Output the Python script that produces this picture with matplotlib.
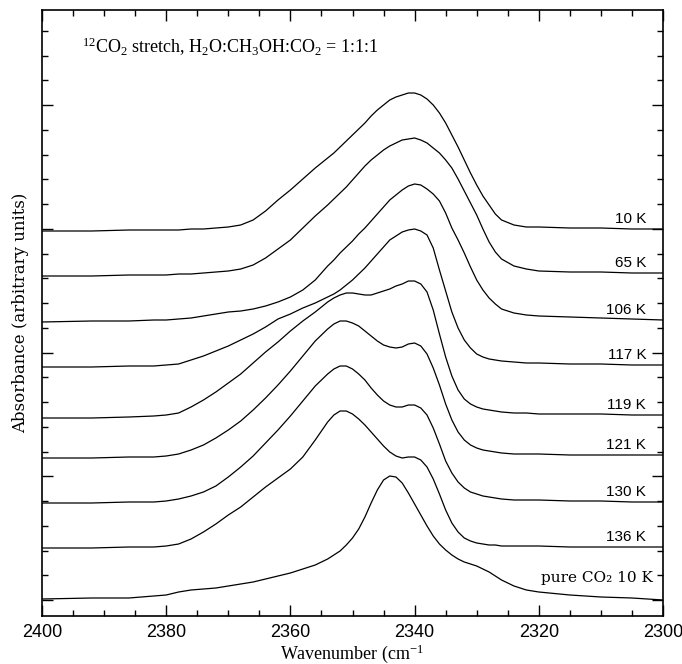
import matplotlib
matplotlib.use("Agg")
import matplotlib.pyplot as plt
from matplotlib.ticker import MultipleLocator, NullFormatter

plt.rcParams['mathtext.fontset'] = 'custom'
plt.rcParams['mathtext.rm'] = 'Liberation Serif'
plt.rcParams['mathtext.it'] = 'Liberation Serif:italic'

# wavenumber grid (cm^-1)
wavenumber = [2400, 2392, 2386, 2382, 2380, 2378, 2376, 2374, 2372, 2370, 2368, 2366,
              2364, 2362, 2360, 2358, 2356, 2354, 2353, 2352, 2351, 2350, 2349, 2348,
              2347, 2346, 2345, 2344, 2343, 2342, 2341, 2340, 2339, 2338, 2337, 2336,
              2335, 2334, 2333, 2332, 2331, 2330, 2329, 2328, 2327, 2326, 2324, 2322,
              2320, 2315, 2310, 2305, 2300]

# absorbance (arbitrary units, vertical offsets included)
abs_10K = [369, 369, 370, 370, 370, 370, 371, 371, 372, 373, 375, 380,
           389, 400, 410, 421, 432, 442, 447, 453, 459, 465, 471, 477,
           484, 490, 495, 500, 503, 505, 507, 507, 505, 501, 495, 487,
           477, 465, 453, 440, 427, 415, 404, 395, 386, 380, 375, 373,
           373, 372, 372, 371, 371]
abs_65K = [324, 324, 325, 325, 325, 326, 326, 327, 328, 329, 331, 335,
           342, 351, 360, 372, 384, 395, 401, 407, 413, 420, 427, 434,
           440, 445, 450, 454, 457, 460, 461, 462, 460, 457, 452, 447,
           440, 432, 421, 409, 397, 385, 371, 358, 348, 341, 334, 331,
           329, 328, 328, 327, 327]
abs_106K = [278, 279, 279, 280, 280, 281, 282, 284, 286, 288, 289, 291,
            294, 298, 303, 310, 320, 334, 340, 347, 353, 359, 366, 372,
            379, 386, 393, 400, 405, 410, 414, 416, 415, 411, 406, 399,
            387, 372, 360, 347, 333, 320, 310, 302, 296, 291, 287, 285,
            284, 283, 282, 281, 280]
abs_117K = [233, 233, 234, 234, 235, 236, 240, 244, 249, 254, 260, 266,
            273, 281, 286, 292, 297, 303, 306, 310, 315, 320, 326, 332,
            339, 346, 353, 360, 364, 368, 370, 371, 369, 365, 352, 330,
            309, 288, 272, 260, 252, 246, 243, 241, 240, 239, 238, 237,
            237, 236, 236, 235, 235]
abs_119K = [182, 182, 183, 184, 185, 187, 193, 200, 208, 217, 226, 237,
            248, 258, 269, 279, 288, 298, 302, 305, 307, 307, 306, 305,
            305, 307, 309, 311, 314, 316, 319, 319, 316, 308, 290, 266,
            243, 224, 210, 201, 196, 193, 191, 190, 189, 188, 187, 187,
            186, 186, 186, 185, 185]
abs_121K = [142, 142, 143, 143, 144, 146, 150, 155, 162, 170, 179, 190,
            202, 215, 229, 244, 259, 271, 276, 279, 279, 277, 274, 269,
            264, 259, 255, 253, 252, 253, 256, 257, 254, 246, 232, 215,
            196, 180, 168, 160, 155, 152, 150, 149, 148, 147, 146, 146,
            146, 145, 145, 145, 145]
abs_130K = [97, 97, 98, 98, 99, 101, 104, 108, 114, 123, 133, 144,
            157, 170, 184, 199, 214, 226, 231, 234, 234, 231, 226, 220,
            212, 205, 199, 195, 193, 193, 195, 195, 192, 185, 172, 156,
            139, 127, 118, 112, 108, 106, 104, 103, 102, 101, 100, 100,
            100, 99, 99, 98, 98]
abs_136K = [52, 52, 53, 53, 54, 56, 61, 68, 76, 85, 93, 103,
            113, 122, 131, 143, 160, 178, 185, 189, 189, 186, 181, 175,
            168, 161, 154, 148, 144, 142, 143, 143, 140, 133, 121, 106,
            90, 77, 68, 62, 59, 57, 56, 55, 55, 54, 54, 54,
            54, 53, 53, 53, 53]
abs_pure = [1, 2, 2, 4, 5, 8, 10, 11, 12, 14, 16, 18,
            21, 24, 27, 31, 35, 41, 45, 49, 55, 62, 71, 83,
            97, 110, 120, 124, 123, 117, 107, 96, 85, 74, 64, 56,
            50, 45, 41, 38, 36, 34, 31, 28, 24, 20, 14, 10,
            8, 5, 3, 2, 0]

labels = ['10 K', '65 K', '106 K', '117 K', '119 K', '121 K', '130 K', '136 K',
          'pure CO\u2082 10 K']
spectra = [abs_10K, abs_65K, abs_106K, abs_117K, abs_119K, abs_121K, abs_130K,
           abs_136K, abs_pure]

title = r'$^{12}$CO$_2$ stretch, H$_2$O:CH$_3$OH:CO$_2$ = 1:1:1'

fig = plt.figure(figsize=(6.82, 6.64), dpi=100)
ax = fig.add_axes([42 / 682, 48 / 664, 621 / 682, 606 / 664])

for i, (spec, lab) in enumerate(zip(spectra, labels)):
    ax.plot(wavenumber, spec, color='black', lw=0.9)
    if i < len(spectra) - 1:
        ax.text(2302.7, spec[-1] + 10, lab, ha='right', va='center',
                fontsize=11, family='Liberation Sans')
    else:
        ax.text(2301.6, spec[-1] + 22, lab, ha='right', va='center',
                fontsize=11, family='DejaVu Serif')

ax.set_xlim(2400, 2300)
ax.set_ylim(-16, 590)

ax.xaxis.set_major_locator(MultipleLocator(20))
ax.xaxis.set_minor_locator(MultipleLocator(5))
ax.yaxis.set_major_locator(MultipleLocator(123.75))
ax.yaxis.set_minor_locator(MultipleLocator(24.75))
ax.yaxis.set_major_formatter(NullFormatter())

ax.tick_params(which='both', direction='in', top=True, right=True, width=1.0)
ax.tick_params(which='major', length=8)
ax.tick_params(which='minor', length=4)
ax.tick_params(axis='x', which='major', labelsize=13, pad=6)
for t in ax.get_xticklabels():
    t.set_family('Liberation Sans')
for s in ax.spines.values():
    s.set_linewidth(1.2)

ax.text(0.064, 0.939, title, transform=ax.transAxes, ha='left', va='center',
        fontsize=13, family='Liberation Serif')

ax.set_xlabel(r'Wavenumber (cm$^{-1}$', fontsize=13, family='Liberation Serif',
              labelpad=1)
ax.set_ylabel('Absorbance (arbitrary units)', fontsize=12, family='DejaVu Serif',
              labelpad=6)

fig.savefig('out.png', dpi=100)
